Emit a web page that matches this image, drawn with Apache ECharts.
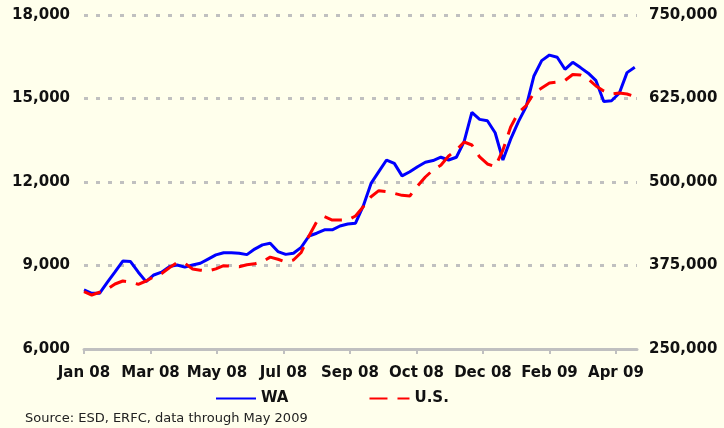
<!DOCTYPE html>
<html>
<head>
<meta charset="utf-8">
<title>Initial claims, WA vs U.S.</title>
<script src="https://cdn.jsdelivr.net/npm/echarts@6/dist/echarts.min.js"></script>
<style>
	html, body { margin: 0; padding: 0; background: #FFFFEC; }
	#main { width: 724px; height: 428px; }
</style>
</head>
<body>
<div id="main"></div>
<script>
	// weekly points, first week ending Jan 5 2008, last May 16 2009
	var weekStep = 7;
	var tickDays = [0, 60, 120, 180, 240, 300, 360, 420, 480];
	var tickLabels = ['Jan 08', 'Mar 08', 'May 08', 'Jul 08', 'Sep 08', 'Oct 08', 'Dec 08', 'Feb 09', 'Apr 09'];

	// WA, left axis
	var waValues = [8120, 8000, 8000, 8390, 8770, 9160, 9140, 8760, 8420, 8660,
		8760, 8960, 9020, 8940, 9020, 9080, 9230, 9380, 9460, 9460,
		9440, 9390, 9590, 9740, 9800, 9500, 9400, 9440, 9650, 10060,
		10160, 10280, 10280, 10420, 10490, 10520, 11140, 11950, 12370, 12790,
		12670, 12220, 12370, 12550, 12710, 12770, 12890, 12790, 12890, 13450,
		14500, 14250, 14200, 13770, 12790, 13540, 14170, 14710, 15810, 16360,
		16560, 16480, 16050, 16300, 16110, 15910, 15640, 14890, 14920, 15190,
		15930, 16120];

	// U.S., right axis
	var usValues = [335800, 330800, 334900, 339400, 347300, 351800, 350000, 346900, 351800, 358300,
		362800, 371700, 379200, 378300, 369700, 368000, 366800, 370000, 374700, 373800,
		373200, 376200, 377500, 380700, 387500, 384300, 380200, 383300, 394500, 419200,
		440600, 448100, 443100, 443100, 443100, 449100, 463000, 478000, 487000, 485500,
		483000, 480000, 479000, 494000, 507500, 518000, 525000, 539000, 547900, 559900,
		555400, 537500, 527000, 522900, 547900, 582300, 604000, 614500, 633200, 640700,
		648200, 649700, 652000, 661000, 660200, 654200, 643700, 636300, 631800, 633200,
		631800, 628000];

	// 把数值和周序号配对
	var toPairs = function(values) {
		var pairs = [];
		for (var i = 0; i < values.length; i++) {
			pairs.push([i * weekStep, values[i]]);
		}
		return pairs;
	};

	var fmt = function(v) {
		return v.toLocaleString('en-US');
	};

	var myChart = echarts.init(document.getElementById('main'));
	var option = {
		backgroundColor : '#FFFFEC',
		animation : false,
		textStyle : {
			fontFamily : 'DejaVu Sans'
		},
		grid : {
			left : 84,
			right : 87,
			top : 15,
			bottom : 79
		},
		legend : {
			left : 210,
			top : 386,
			itemWidth : 40,
			itemHeight : 16,
			itemGap : 80,
			itemStyle : { opacity : 0 },
			textStyle : {
				fontWeight : 'bold',
				fontSize : 15,
				color : '#111111'
			},
			data : ['WA', 'U.S.']
		},
		xAxis : {
			type : 'value',
			min : 0,
			max : 499,
			axisLine : {
				lineStyle : { color : '#C0C0C0', width : 3 }
			},
			axisTick : {
				customValues : tickDays,
				length : 5,
				lineStyle : { color : '#C0C0C0', width : 2 }
			},
			// x轴标签
			axisLabel : {
				customValues : tickDays,
				margin : 17,
				fontWeight : 'bold',
				fontSize : 15,
				color : '#111111',
				formatter : function(value) {
					var idx = tickDays.indexOf(value);
					return idx === -1 ? '' : tickLabels[idx];
				}
			},
			splitLine : { show : false }
		},
		yAxis : [ {
			type : 'value',
			min : 6000,
			max : 18000,
			interval : 3000,
			axisLine : { show : false },
			axisTick : { show : false },
			axisLabel : {
				margin : 14,
				fontWeight : 'bold',
				fontSize : 15,
				color : '#111111',
				formatter : fmt
			},
			splitLine : {
				lineStyle : { color : '#C0C0C0', type : [4, 8], width : 3 }
			}
		}, {
			type : 'value',
			min : 250000,
			max : 750000,
			interval : 125000,
			axisLine : { show : false },
			axisTick : { show : false },
			axisLabel : {
				margin : 12,
				fontWeight : 'bold',
				fontSize : 15,
				color : '#111111',
				formatter : fmt
			},
			splitLine : { show : false }
		} ],
		series : [ {
			name : 'WA',
			type : 'line',
			yAxisIndex : 0,
			symbol : 'none',
			data : toPairs(waValues),
			itemStyle : { color : '#0000FF' },
			lineStyle : { color : '#0000FF', width : 3 }
		}, {
			name : 'U.S.',
			type : 'line',
			yAxisIndex : 1,
			symbol : 'none',
			data : toPairs(usValues),
			itemStyle : { color : '#FF0000' },
			lineStyle : { color : '#FF0000', width : 3, type : [18, 10] }
		} ],
		graphic : [ {
			type : 'text',
			left : 25,
			top : 412,
			style : {
				text : 'Source: ESD, ERFC, data through May 2009',
				fontFamily : 'DejaVu Sans',
				fontSize : 13,
				fill : '#222222'
			}
		} ]
	};
	myChart.setOption(option);
</script>
</body>
</html>
